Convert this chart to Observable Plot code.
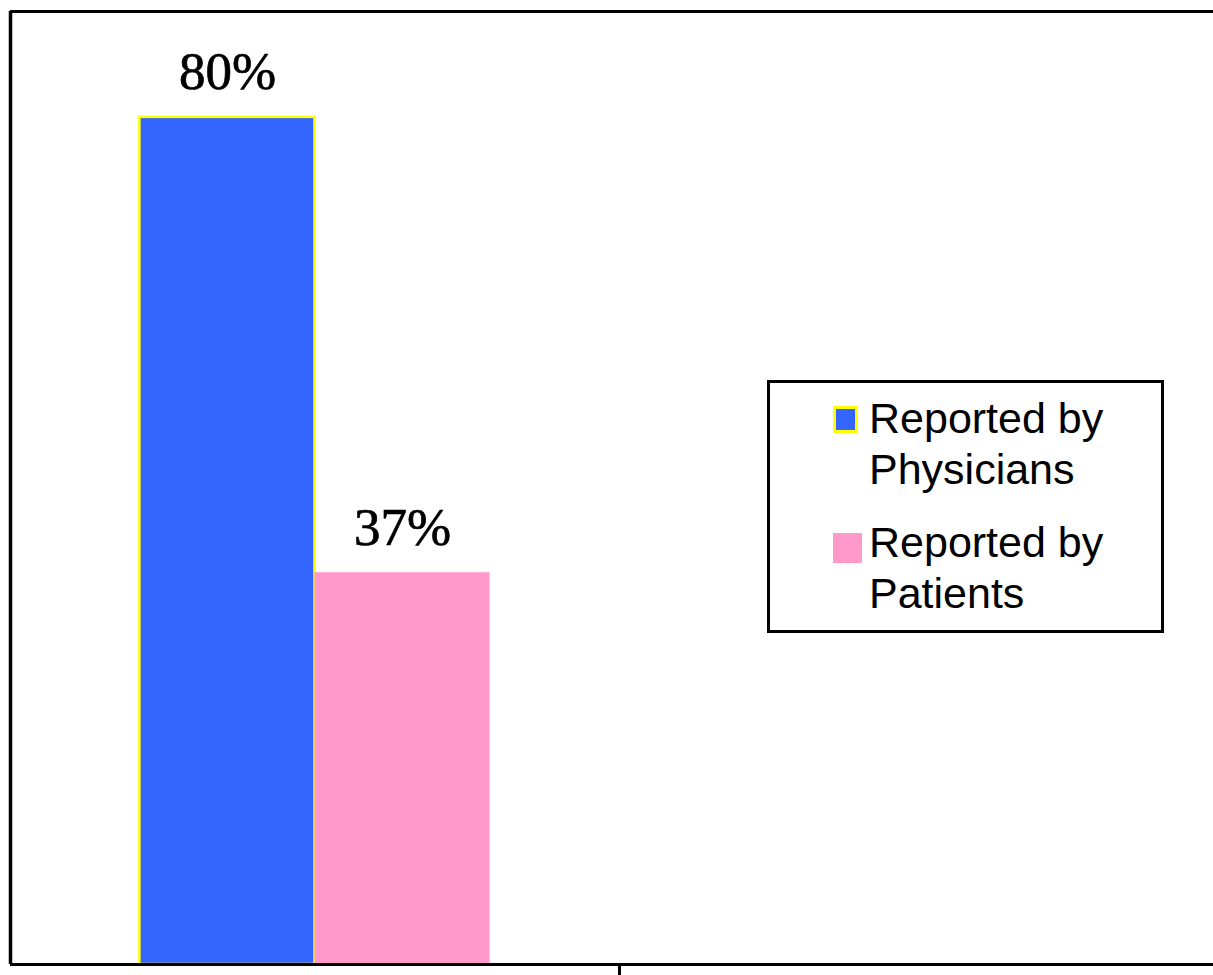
<!DOCTYPE html>
<html>
<head>
<meta charset="utf-8">
<script src="https://cdn.jsdelivr.net/npm/d3@7"></script>
<script src="https://cdn.jsdelivr.net/npm/@observablehq/plot@0.6"></script>
<style>
  html, body { margin: 0; padding: 0; background: #fff; overflow: hidden; }
  #wrap { position: relative; width: 1213px; height: 975px; overflow: hidden; }
  #chart svg { display: block; max-width: none !important; }
  .legend { position: absolute; left: 767px; top: 380px; width: 391px; height: 247px;
            border: 3px solid #000; background: #fff; box-sizing: content-box; }
  .entry { position: absolute; left: 0; }
  .sw { position: absolute; box-sizing: border-box; }
  .lbl { position: absolute; left: 99px; width: 280px; font-family: "Liberation Sans", Arial, sans-serif;
         font-size: 43px; line-height: 51px; color: #000; }
</style>
</head>
<body>
<div id="wrap">
  <div id="chart"></div>
  <div class="legend" id="legend"></div>
</div>
<script>
// ---- data ----
const categories = ["Category 1", "Category 2"];          // two category slots, unlabeled in the original
const seriesNames = ["Reported by Physicians", "Reported by Patients"];
const physiciansValues = [80, null];
const patientsValues = [37, null];
const seriesColors = ["#3366FF", "#FF99CC"];
const seriesOutline = ["#FFFF00", null];
const yMax = 90;

// ---- table for the library ----
const groupFrac = 0.575;   // share of a category slot covered by its bars
const valuesBySeries = [physiciansValues, patientsValues];
const rows = [];
categories.forEach((c, i) => {
  seriesNames.forEach((s, j) => {
    const v = valuesBySeries[j][i];
    if (v == null) return;
    const w = groupFrac / seriesNames.length;
    const x1 = i + (1 - groupFrac) / 2 + j * w;
    rows.push({category: c, series: s, value: v, x1, x2: x1 + w, xm: x1 + w / 2});
  });
});

const barMarks = seriesNames.map((s, j) =>
  Plot.rectY(rows.filter(d => d.series === s), {
    x1: "x1", x2: "x2", y1: 0, y2: "value",
    fill: seriesColors[j],
    stroke: seriesOutline[j] || "none",
    strokeWidth: 2.5
  })
);

const plot = Plot.plot({
  width: 1230,
  height: 975,
  marginLeft: 10,
  marginRight: 2,
  marginTop: 11,
  marginBottom: 11,
  x: {type: "linear", domain: [0, categories.length], axis: null, label: null},
  y: {type: "linear", domain: [0, yMax], axis: null, label: null},
  marks: [
    ...barMarks,
    Plot.text(rows, {
      x: "xm", y: "value",
      text: d => d.value + "%",
      lineAnchor: "bottom", dy: -28,
      fontFamily: "Liberation Serif, Times New Roman, serif",
      fontSize: 53, fill: "#000", stroke: "#000", strokeWidth: 0.7
    }),
    Plot.ruleY([0], {stroke: "#000", strokeWidth: 3}),
    Plot.ruleY([yMax], {stroke: "#000", strokeWidth: 3}),
    Plot.ruleX([0], {stroke: "#000", strokeWidth: 3.5}),
    Plot.axisX({
      ticks: d3.range(1, categories.length),
      tickSize: 11, tickFormat: () => "", label: null,
      stroke: "#000", strokeWidth: 3
    })
  ]
});
plot.style.maxWidth = "none";
document.getElementById("chart").append(plot);

// ---- legend ----
const legend = document.getElementById("legend");
const entryTops = [9.6, 133.6];
const swatchSpecs = [
  {left: 63, top: 13.4, w: 24.5, h: 27},
  {left: 63, top: 16.4, w: 29, h: 30}
];
seriesNames.forEach((s, j) => {
  const e = document.createElement("div");
  e.className = "entry";
  e.style.top = entryTops[j] + "px";
  const sw = document.createElement("div");
  sw.className = "sw";
  const sp = swatchSpecs[j];
  sw.style.left = sp.left + "px";
  sw.style.top = sp.top + "px";
  sw.style.width = sp.w + "px";
  sw.style.height = sp.h + "px";
  sw.style.background = seriesColors[j];
  if (seriesOutline[j]) sw.style.border = "3px solid " + seriesOutline[j];
  const lb = document.createElement("div");
  lb.className = "lbl";
  lb.textContent = s;
  e.append(sw, lb);
  legend.append(e);
});
</script>
</body>
</html>
